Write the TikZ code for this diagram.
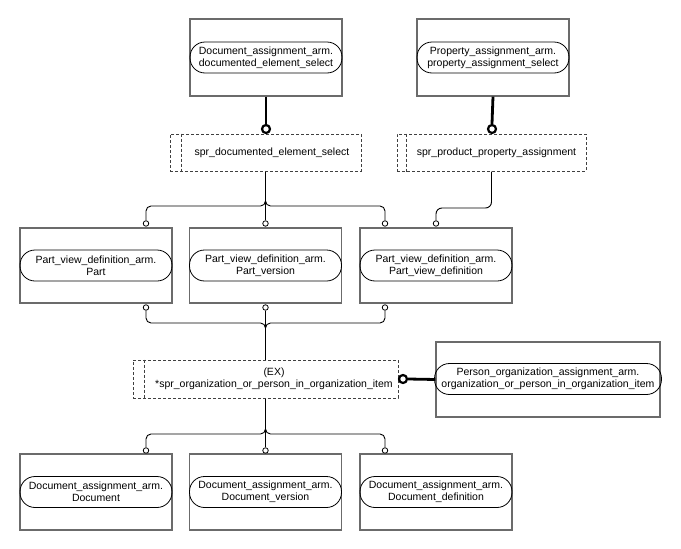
\documentclass[tikz,border=0pt]{standalone}
\usepackage{fontspec}
\setmainfont{Liberation Sans}
\usetikzlibrary{calc}
\begin{document}
\begin{tikzpicture}[x=1pt,y=-1pt,
 ent/.style={draw=black!58, line width=1.2pt, minimum width=152pt, minimum height=76pt, inner sep=0pt},
 oval/.style={draw=black, line width=0.8pt, rounded corners=15pt, minimum width=152pt, minimum height=31pt, inner sep=0pt, align=center, font=\fontsize{10.5}{12}\selectfont},
 sel/.style={draw=black!75, line width=1pt, dash pattern=on 3pt off 2pt, inner sep=0pt},
 txt/.style={align=center, font=\fontsize{10.5}{12}\selectfont, inner sep=0pt},
 conn/.style={draw=black, line width=0.9pt},
 thickc/.style={draw=black, line width=2.8pt},
 ring/.style={circle, draw=black, line width=0.8pt, fill=white, minimum size=5.5pt, inner sep=0pt},
 bigring/.style={circle, draw=black, line width=2.2pt, fill=white, minimum size=8pt, inner sep=0pt}
]
\useasboundingbox (0,0) rectangle (681,549);
\fill[white] (0,0) rectangle (681,549);

% top select entities
\node[ent, minimum height=77pt] (dsb) at (266,57.5) {};
\node[oval] (dso) at (266,57.5) {Document\_assignment\_arm.\\documented\_element\_select};
\node[ent, minimum height=77pt] (psb) at (493,57.5) {};
\node[oval] (pso) at (493,57.5) {Property\_assignment\_arm.\\property\_assignment\_select};

% dashed select boxes
\node[sel, minimum width=191pt, minimum height=37pt] (ds1) at (265.5,152.5) {};
\draw[sel] ([xshift=12pt]ds1.north west) -- ([xshift=12pt]ds1.south west);
\node[txt] (ds1t) at (272,152.5) {spr\_documented\_element\_select};
\node[sel, minimum width=189pt, minimum height=37pt] (ds2) at (491.5,152.5) {};
\draw[sel] ([xshift=10pt]ds2.north west) -- ([xshift=10pt]ds2.south west);
\node[txt] (ds2t) at (496.5,152.5) {spr\_product\_property\_assignment};

% thick connectors
\node[bigring] (r1) at (266,129) {};
\draw[thickc] (dsb.south) -- (r1.north);
\node[bigring] (r2) at (492,129) {};
\draw[thickc] (psb.south) -- (r2.north);

% part boxes
\node[ent, minimum height=75pt] (pa) at (96,265.5) {};
\node[oval] (pao) at (96,265.5) {Part\_view\_definition\_arm.\\Part};
\node[ent, minimum height=75pt] (pv) at (265.5,265.5) {};
\node[oval] (pvo) at (265.5,265.5) {Part\_view\_definition\_arm.\\Part\_version};
\node[ent, minimum height=75pt] (pd) at (436,265.5) {};
\node[oval] (pdo) at (436,265.5) {Part\_view\_definition\_arm.\\Part\_view\_definition};

% rings on part boxes
\node[ring] (ra1) at (146,223.5) {};
\node[ring] (rv1) at (265.5,223.5) {};
\node[ring] (rd1) at (385,223.5) {};
\node[ring] (rd2) at (436,223.5) {};
\node[ring] (ra2) at (146,307.5) {};
\node[ring] (rv2) at (265.5,307.5) {};
\node[ring] (rd3) at (385,307.5) {};

% top bus
\coordinate (j1) at (265.5,206);
\draw[conn] (ds1.south) -- (rv1.north);
\draw[conn, rounded corners=5pt] (ra1.north) |- (j1) -- ([yshift=5pt]j1);
\draw[conn, rounded corners=5pt] (rd1.north) |- (j1) -- ([yshift=5pt]j1);

% property route
\coordinate (j2) at (464,208);
\draw[conn, rounded corners=6pt] (ds2.south) |- (j2) -| (rd2.north);

% EX box
\node[sel, minimum width=265pt, minimum height=38pt] (ex) at (265.5,379) {};
\draw[sel] ([xshift=12pt]ex.north west) -- ([xshift=12pt]ex.south west);
\node[txt] (ext) at (274,379) {(EX)\\{*}spr\_organization\_or\_person\_in\_organization\_item};

% bottom bus of part boxes
\coordinate (j3) at (265.5,323);
\draw[conn] (rv2.south) -- (ex.north);
\draw[conn, rounded corners=5pt] (ra2.south) |- (j3) -- ([yshift=-5pt]j3);
\draw[conn, rounded corners=5pt] (rd3.south) |- (j3) -- ([yshift=-5pt]j3);

% person box
\node[ent, minimum width=224pt, minimum height=75pt] (pe) at (548,379.5) {};
\node[oval, minimum width=227pt] (peo) at (548,379) {Person\_organization\_assignment\_arm.\\organization\_or\_person\_in\_organization\_item};
\node[bigring] (r3) at (403,379) {};
\draw[thickc] (r3.east) -- (pe.west);

% document boxes
\node[ent] (da) at (96,492) {};
\node[oval] (dao) at (96,492) {Document\_assignment\_arm.\\Document};
\node[ent] (dv) at (265.5,492) {};
\node[oval] (dvo) at (265.5,492) {Document\_assignment\_arm.\\Document\_version};
\node[ent] (dd) at (436,492) {};
\node[oval] (ddo) at (436,492) {Document\_assignment\_arm.\\Document\_definition};

\node[ring] (rb1) at (146,450.5) {};
\node[ring] (rb2) at (265.5,450.5) {};
\node[ring] (rb3) at (385,450.5) {};
\coordinate (j4) at (265.5,434);
\draw[conn] (ex.south) -- (rb2.north);
\draw[conn, rounded corners=5pt] (rb1.north) |- (j4) -- ([yshift=5pt]j4);
\draw[conn, rounded corners=5pt] (rb3.north) |- (j4) -- ([yshift=5pt]j4);
\end{tikzpicture}
\end{document}
